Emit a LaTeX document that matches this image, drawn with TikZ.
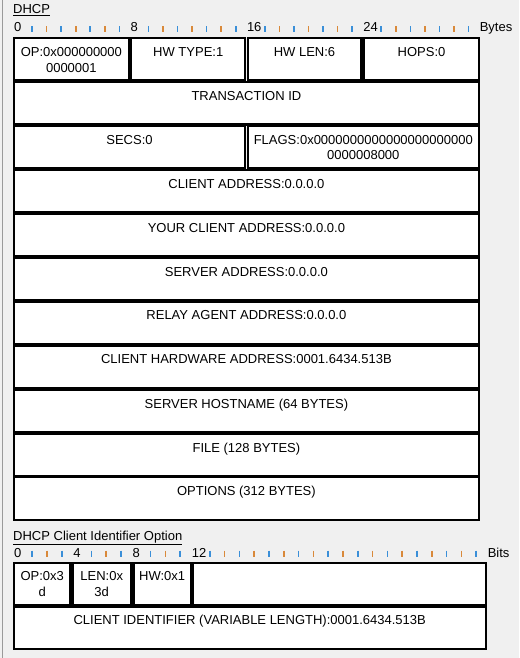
\documentclass[tikz,border=0pt]{standalone}
\usepackage{fontspec}
\setmainfont{Liberation Sans}
\definecolor{bgcol}{HTML}{F0F0F0}
\definecolor{framegray}{HTML}{9A9A9A}
\definecolor{tickblue}{HTML}{3A8FD8}
\definecolor{tickorange}{HTML}{D9893A}
\begin{document}
\begin{tikzpicture}[x=1pt,y=-1pt,line join=miter]
	\tikzset{cell/.style={draw=black,fill=white,line width=2.2pt},
		celltext/.style={anchor=north,inner sep=0pt,align=center,font=\fontsize{13}{15.5}\selectfont},
		rulertext/.style={anchor=base west,inner sep=0pt,font=\fontsize{13}{14}\selectfont},
		tickmark/.style={line width=1.6pt}}
	%%Khung nền
	\fill[bgcol] (0,0) rectangle (519,658);
	\useasboundingbox (0,0) rectangle (519,658);
	\draw[framegray,line width=1pt] (2.5,0)--(2.5,658);
	%%Thước byte phía trên
	\node[rulertext] (dhcptitle) at (13,13.3) {\underline{DHCP}};
	\foreach \s in {0,8,16,24}{
		\node[rulertext] (byte\s) at ({14+14.55*\s},32) {\s};
		\foreach \k in {1,3,5,7}
			\draw[tickmark,tickblue] ({17.5+14.55*(\s+\k)},26.3)--++(0,6);
		\foreach \k in {2,4,6}
			\draw[tickmark,tickorange] ({17.5+14.55*(\s+\k)},26.3)--++(0,6);
	}
	\node[rulertext] (bytes) at ({14+14.55*32},32) {Bytes};
	%%Các ô của gói DHCP
	\draw[cell] (13.8,38.3) rectangle (128.9,80.6);
	\draw[cell] (131.3,38.3) rectangle (245.2,80.6);
	\draw[cell] (247.6,38.3) rectangle (361.5,80.6);
	\draw[cell] (363.9,38.3) rectangle (479,80.6);
	\node[celltext] (op) at (71.35,47.3) {OP:0x000000000\\0000001};
	\node[celltext] (hwtype) at (188.25,47.3) {HW TYPE:1};
	\node[celltext] (hwlen) at (304.5,47.3) {HW LEN:6};
	\node[celltext] (hops) at (421.5,47.3) {HOPS:0};
	\draw[cell] (13.8,126.1) rectangle (245.2,168.4);
	\draw[cell] (247.6,126.1) rectangle (479,168.4);
	\node[celltext] (secs) at (129.5,135.1) {SECS:0};
	\node[celltext] (flags) at (363.3,135.1) {FLAGS:0x0000000000000000000000\\0000008000};
	\foreach \i/\txt in {1/TRANSACTION ID,3/CLIENT ADDRESS:0.0.0.0,
		4/YOUR CLIENT ADDRESS:0.0.0.0,5/SERVER ADDRESS:0.0.0.0,
		6/RELAY AGENT ADDRESS:0.0.0.0,7/CLIENT HARDWARE ADDRESS:0001.6434.513B,
		8/SERVER HOSTNAME (64 BYTES),9/FILE (128 BYTES),10/OPTIONS (312 BYTES)}{
		\draw[cell] (13.8,{38.3+43.9*\i}) rectangle (479,{80.6+43.9*\i});
		\node[celltext] (row\i) at (246.4,{47.3+43.9*\i}) {\txt};
	}
	%%Thước bit phía dưới
	\node[rulertext] (optiontitle) at (13,540) {\underline{DHCP Client Identifier Option}};
	\foreach \s in {0,4,8,12}
		\node[rulertext] (bit\s) at ({14+14.8*\s},557) {\s};
	\foreach \j in {1,3,5,...,31}
		\draw[tickmark,tickblue] ({17.3+14.8*\j},550.5)--++(0,6);
	\foreach \j in {2,6,10,14,16,...,30}
		\draw[tickmark,tickorange] ({17.3+14.8*\j},550.5)--++(0,6);
	\node[rulertext] (bits) at ({14+14.8*32},557) {Bits};
	%%Các ô của tuỳ chọn
	\draw[cell] (13.8,562.8) rectangle (70.5,604.6);
	\draw[cell] (72.9,562.8) rectangle (131.1,604.6);
	\draw[cell] (133.5,562.8) rectangle (190.8,604.6);
	\draw[cell] (193.2,562.8) rectangle (485.7,604.6);
	\draw[cell] (13.8,606.4) rectangle (485.7,648.6);
	\node[celltext] (optop) at (42.2,571.3) {OP:0x3\\d};
	\node[celltext] (optlen) at (101.7,571.3) {LEN:0x\\3d};
	\node[celltext] (opthw) at (162.2,571.3) {HW:0x1};
	\node[celltext] (clientid) at (249.7,615) {CLIENT IDENTIFIER (VARIABLE LENGTH):0001.6434.513B};
\end{tikzpicture}
\end{document}
